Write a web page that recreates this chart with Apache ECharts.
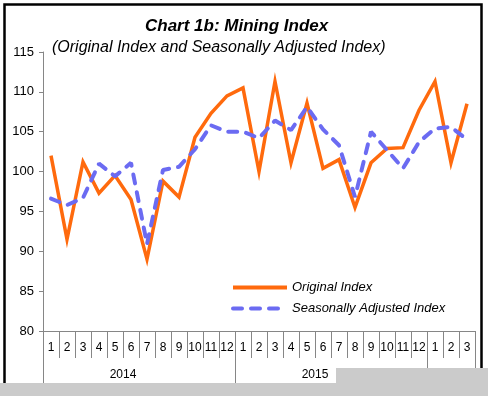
<!DOCTYPE html>
<html>
<head>
<meta charset="utf-8">
<script src="https://cdn.jsdelivr.net/npm/echarts@6/dist/echarts.min.js"></script>
<style>
html, body { margin: 0; padding: 0; background: #fff; }
#chart { width: 488px; height: 396px; }
</style>
</head>
<body>
<div id="chart"></div>
<script>
// years and how many months of each are shown
const years = ['2014', '2015', '2016'];
const monthsPerYear = [12, 12, 3];

// mining index
const originalIndex = [
  102.0, 91.5, 101.2, 97.3, 99.5, 96.5, 89.0, 98.8, 96.8, 104.3, 107.3, 109.5,
  110.5, 100.0, 111.3, 101.1, 108.6, 100.4, 101.5, 95.5, 101.1, 102.9, 103.0, 107.7,
  111.3, 101.1, 108.5
];
const seasonallyAdjusted = [
  96.6, 95.8, 96.7, 101.0, 99.4, 101.1, 90.9, 100.2, 100.6, 102.8, 105.8, 105.0,
  105.0, 104.2, 106.4, 105.2, 108.1, 105.3, 103.3, 96.8, 105.0, 102.7, 100.4, 103.7,
  105.4, 105.6, 104.0
];

// build month labels and year labels (year label placed mid-group)
const monthLabels = [];
const yearLabels = [];
const yearStarts = [];
years.forEach(function (y, k) {
  yearStarts.push(monthLabels.length);
  for (let m = 1; m <= monthsPerYear[k]; m++) {
    monthLabels.push(String(m));
    yearLabels.push(m === Math.ceil(monthsPerYear[k] / 2) ? y : '');
  }
});

const chart = echarts.init(document.getElementById('chart'));
const axisGray = '#868686';
const font = 'Liberation Sans, Arial, sans-serif';

const option = {
  animation: false,
  title: [
    {
      text: 'Chart 1b: Mining Index',
      left: 140, top: 13,
      textStyle: { fontFamily: font, fontSize: 17, fontWeight: 'bold', fontStyle: 'italic', color: '#000' }
    },
    {
      text: '(Original Index and Seasonally Adjusted Index)',
      left: 47, top: 35,
      textStyle: { fontFamily: font, fontSize: 16, fontWeight: 'normal', fontStyle: 'italic', color: '#000' }
    }
  ],
  legend: {
    orient: 'vertical',
    left: 231, top: 281, padding: 0,
    itemWidth: 54, itemHeight: 12, itemGap: 8,
    itemStyle: { opacity: 0 },
    lineStyle: { width: 4 },
    textStyle: { fontFamily: font, fontSize: 13, fontStyle: 'italic', color: '#000' },
    data: ['Original Index', 'Seasonally Adjusted Index']
  },
  grid: { left: 43, right: 13, top: 52, bottom: 65 },
  xAxis: [
    {
      type: 'category',
      data: monthLabels,
      boundaryGap: true,
      axisLine: { show: true, lineStyle: { color: axisGray, width: 1 } },
      axisTick: { show: true, interval: 0, length: 27, lineStyle: { color: axisGray } },
      axisLabel: { interval: 0, margin: 11, fontFamily: font, fontSize: 12, color: '#000' },
      splitLine: { show: false }
    },
    {
      type: 'category',
      data: yearLabels,
      position: 'bottom',
      boundaryGap: true,
      axisLine: { show: false },
      axisTick: {
        show: true, length: 60, lineStyle: { color: axisGray },
        interval: function (i) { return yearStarts.indexOf(i) >= 0; }
      },
      axisLabel: {
        interval: 0, margin: 38, fontFamily: font, fontSize: 12, color: '#000',
        formatter: function (v) {
          if (!v) return '';
          const k = years.indexOf(v);
          // even-sized groups: centre on the group boundary, not the category
          return monthsPerYear[k] % 2 === 0 ? '{s|' + v + '}' : v;
        },
        rich: { s: { fontFamily: font, fontSize: 12, color: '#000', padding: [0, 16, 0, 0] } }
      },
      splitLine: { show: false }
    }
  ],
  yAxis: {
    type: 'value',
    min: 80, max: 115, interval: 5,
    axisLine: { show: true, lineStyle: { color: axisGray, width: 1 } },
    axisTick: { show: true, length: 4, lineStyle: { color: axisGray } },
    axisLabel: { margin: 9, fontFamily: font, fontSize: 13, color: '#000' },
    splitLine: { show: false }
  },
  series: [
    {
      name: 'Original Index',
      type: 'line',
      data: originalIndex,
      symbol: 'none',
      lineStyle: { color: '#FF6A0D', width: 3.5, join: 'miter' },
      itemStyle: { color: '#FF6A0D' },
      z: 2
    },
    {
      name: 'Seasonally Adjusted Index',
      type: 'line',
      data: seasonallyAdjusted,
      symbol: 'none',
      lineStyle: { color: '#6B6BF2', width: 4, type: [9, 9], cap: 'round' },
      itemStyle: { color: '#6B6BF2' },
      z: 3
    }
  ],
  graphic: [
    {
      type: 'rect', z: 100, silent: true,
      shape: { x: 4.5, y: 4.5, width: 477, height: 420 },
      style: { fill: 'none', stroke: '#000', lineWidth: 2.5 }
    },
    {
      type: 'rect', z: 101, silent: true,
      shape: { x: 336, y: 368, width: 152, height: 28 },
      style: { fill: '#cbcbcb' }
    },
    {
      type: 'rect', z: 101, silent: true,
      shape: { x: 0, y: 383, width: 488, height: 13 },
      style: { fill: '#cbcbcb' }
    }
  ]
};

chart.setOption(option);
</script>
</body>
</html>
